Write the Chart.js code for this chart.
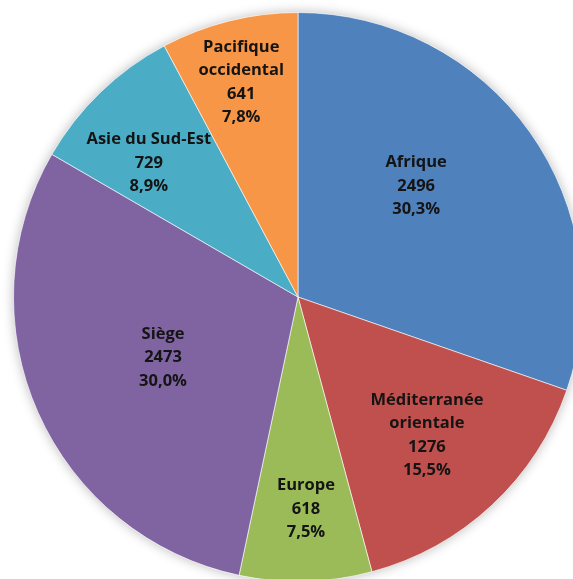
<!DOCTYPE html>
<html>
<head>
<meta charset="utf-8">
<script src="https://cdn.jsdelivr.net/npm/chart.js@4/dist/chart.umd.min.js"></script>
<style>
  html, body { margin: 0; padding: 0; background: #fff; }
  #wrap { position: relative; width: 573px; height: 579px; overflow: hidden; }
  #pie { position: absolute; left: -2px; top: -3px; }
</style>
</head>
<body>
<div id="wrap"><canvas id="pie" width="600" height="600"></canvas></div>
<script>
const regions = ['Afrique', 'Méditerranée\norientale', 'Europe', 'Siège', 'Asie du Sud-Est', 'Pacifique\noccidental'];
const staff = [2496, 1276, 618, 2473, 729, 641];
const shares = ['30,3%', '15,5%', '7,5%', '30,0%', '8,9%', '7,8%'];
const colors = ['#4f81bd', '#c0504d', '#9bbb59', '#8064a2', '#4bacc6', '#f79646'];

// label placement per slice: fraction of radius, and angle nudge (degrees)
const labelRadius = [0.57, 0.665, 0.745, 0.52, 0.705, 0.78];
const labelNudge = [-7.8, 0, -0.6, -0.2, -4.1, -0.8];

// soft grey halo under the pie
const halo = {
  id: 'halo',
  beforeDatasetsDraw(chart) {
    const arc = chart.getDatasetMeta(0).data[0];
    const ctx = chart.ctx;
    ctx.save();
    ctx.shadowColor = 'rgba(0,0,0,0.28)';
    ctx.shadowBlur = 12;
    ctx.fillStyle = '#fff';
    ctx.beginPath();
    ctx.arc(arc.x, arc.y, arc.outerRadius, 0, Math.PI * 2);
    ctx.fill();
    ctx.restore();
  }
};

const sliceLabels = {
  id: 'sliceLabels',
  afterDatasetsDraw(chart) {
    const ctx = chart.ctx;
    ctx.save();
    ctx.font = 'bold 16.5px "Open Sans", sans-serif';
    ctx.fillStyle = '#141414';
    ctx.textAlign = 'center';
    ctx.textBaseline = 'middle';
    chart.getDatasetMeta(0).data.forEach((arc, i) => {
      const mid = (arc.startAngle + arc.endAngle) / 2 + labelNudge[i] * Math.PI / 180;
      const r = arc.outerRadius * labelRadius[i];
      const x = arc.x + Math.cos(mid) * r;
      const y = arc.y + Math.sin(mid) * r;
      const lines = regions[i].split('\n').concat([String(staff[i]), shares[i]]);
      const lh = 23.5;
      lines.forEach((t, k) => {
        ctx.fillText(t, x, y + (k - (lines.length - 1) / 2) * lh);
      });
    });
    ctx.restore();
  }
};

new Chart(document.getElementById('pie'), {
  type: 'pie',
  data: {
    labels: regions,
    datasets: [{
      data: staff,
      backgroundColor: colors,
      borderColor: 'rgba(255,255,255,0.6)',
      borderWidth: 1
    }]
  },
  options: {
    responsive: false,
    animation: false,
    layout: { padding: 15 },
    plugins: { legend: { display: false }, tooltip: { enabled: false } }
  },
  plugins: [halo, sliceLabels]
});
</script>
</body>
</html>
